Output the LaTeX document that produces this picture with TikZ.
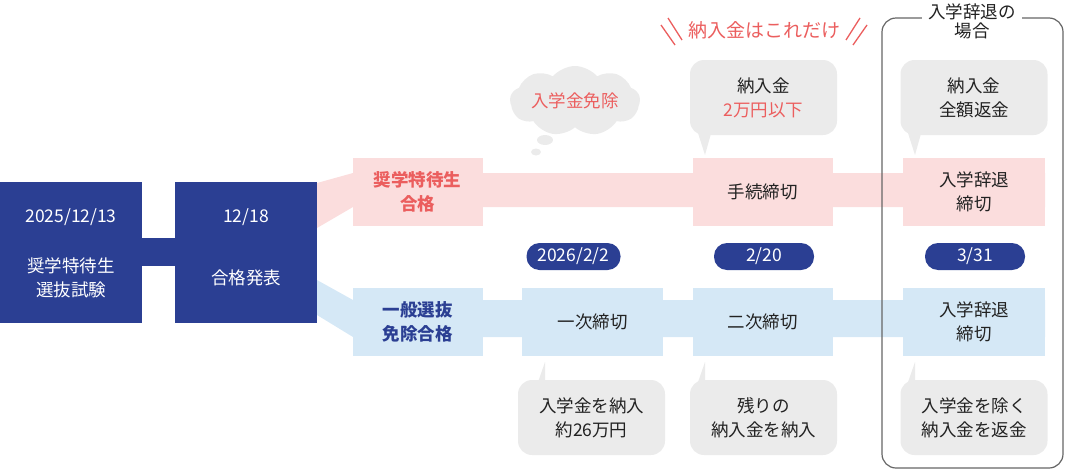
\documentclass[tikz,border=0pt]{standalone}
\usepackage{fontspec}
\setmainfont{Noto Sans CJK JP}
\usetikzlibrary{shapes.symbols}
\definecolor{navy}{HTML}{2B3F93}
\definecolor{pinkb}{HTML}{FBDDDD}
\definecolor{pinkt}{HTML}{EB5E5E}
\definecolor{blueb}{HTML}{D5E8F6}
\definecolor{greyb}{HTML}{EBEBEB}
\definecolor{txt}{HTML}{222222}
\begin{document}
\begin{tikzpicture}[x=1pt,y=-1pt,
  every node/.style={font=\fontsize{17.5}{24}\selectfont, text=txt, align=center, inner sep=0},
  navybox/.style={fill=navy, text=white, minimum width=142pt, minimum height=141pt},
  pbox/.style={fill=pinkb, minimum width=140pt, minimum height=68pt},
  bbox/.style={fill=blueb, minimum width=140pt, minimum height=68pt},
  pill/.style={fill=navy, text=white, rounded corners=13pt, minimum height=27pt, minimum width=100pt},
  bub/.style={fill=greyb, rounded corners=14pt, minimum width=147pt, minimum height=75pt},
  boldp/.style={text=pinkt, font=\fontsize{17.5}{24}\selectfont\bfseries},
  boldb/.style={text=navy, font=\fontsize{17.5}{24}\selectfont\bfseries}]
\useasboundingbox (0,0) rectangle (1071,474);
% bands
\fill[pinkb] (317,183) -- (353,173) -- (1045,173) -- (1045,207) -- (353,207) -- (317,228) -- cycle;
\fill[blueb] (317,280) -- (353,300) -- (1045,300) -- (1045,337) -- (353,337) -- (317,315) -- cycle;
% navy
\node[navybox] (a) at (71,252.5) {};
\node[text=white] at (71,217) {2025/12/13};
\node[text=white] at (71,278) {奨学特待生\\選抜試験};
\node[navybox] (b) at (246,252.5) {};
\node[text=white] at (246,217) {12/18};
\node[text=white] at (246,278) {合格発表};
\fill[navy] (a.east|-0,238) rectangle (b.west|-0,266);
% pink boxes
\node[pbox,boldp, minimum width=130pt] (p1) at (417.5,192) {奨学特待生\\合格};
\node[pbox] (p2) at (762.5,192) {手続締切};
\node[pbox, minimum width=142pt] (p3) at (974,192) {入学辞退\\締切};
% blue boxes
\node[bbox,boldb, minimum width=130pt] (q1) at (417.5,322) {一般選抜\\免除合格};
\node[bbox, minimum width=141pt] (q2) at (592.5,322) {一次締切};
\node[bbox] (q3) at (762.5,322) {二次締切};
\node[bbox, minimum width=142pt] (q4) at (974,322) {入学辞退\\締切};
% pills
\node[pill, minimum width=94pt] (d1) at (573.5,256.5) {2026/2/2};
\node[pill] (d2) at (764,256.5) {2/20};
\node[pill] (d3) at (975,256.5) {3/31};
% upper bubbles
\fill[greyb] (697,130) -- (712,130) -- (705,155) -- cycle;
\node[bub] (u1) at (763.5,97.5) {納入金\\\textcolor{pinkt}{2万円以下}};
\fill[greyb] (907,130) -- (922,130) -- (915,155) -- cycle;
\node[bub] (u2) at (974,97.5) {納入金\\全額返金};
% lower bubbles
\fill[greyb] (537,385) -- (545,362) -- (545,385) -- cycle;
\node[bub] (l1) at (591.5,417.5) {入学金を納入\\約26万円};
\fill[greyb] (697,385) -- (705,362) -- (705,385) -- cycle;
\node[bub] (l2) at (763.5,417.5) {残りの\\納入金を納入};
\fill[greyb] (907,385) -- (915,362) -- (915,385) -- cycle;
\node[bub] (l3) at (974,417.5) {入学金を除く\\納入金を返金};
% cloud
\node[cloud, cloud puffs=9, cloud puff arc=100, aspect=2.2, fill=greyb, minimum width=130pt, minimum height=70pt] (c) at (575,101) {};
\node[text=pinkt] at (575,101) {入学金免除};
\fill[greyb] (545,140) ellipse (8 and 5);
\fill[greyb] (536,152) ellipse (5 and 3.5);
% header
\node[text=pinkt, font=\fontsize{19}{22}\selectfont] (h) at (764,30) {納入金はこれだけ};
\draw[pinkt, line width=1.3pt] (661,25) -- (675,45) (668,18) -- (682,40);
\draw[pinkt, line width=1.3pt] (867,25) -- (853,45) (860,18) -- (846,40);
% outline
\draw[gray!80!black, line width=1.2pt, rounded corners=14pt] (882,18) rectangle (1063,468);
\node[fill=white, inner xsep=6pt, inner ysep=0, font=\fontsize{17.5}{19}\selectfont] (t) at (972,21) {入学辞退の\\場合};
\end{tikzpicture}
\end{document}
